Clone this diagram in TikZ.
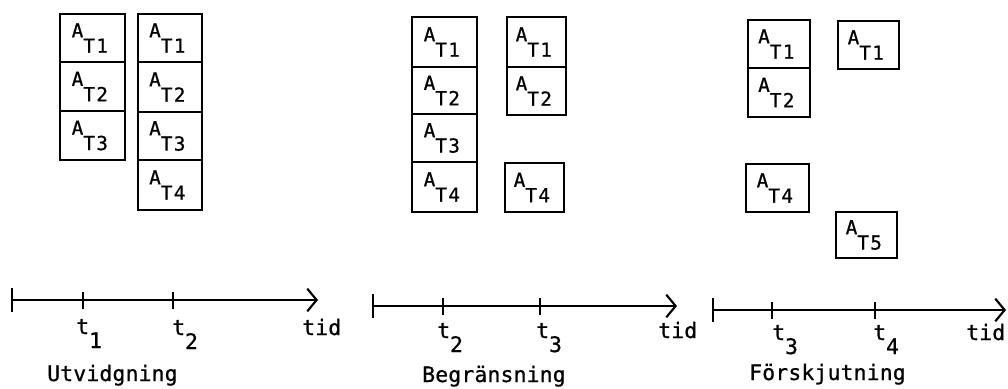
\documentclass[tikz,border=0pt]{standalone}
\usepackage{fontspec}
\newfontfamily\boxfont[LetterSpace=7,FakeBold=0.8]{DejaVu Sans Mono}
\newfontfamily\labfont[LetterSpace=1,FakeBold=0.8]{DejaVu Sans Mono}
\usetikzlibrary{arrows.meta}
\newcommand\lowsub[1]{\lower11.5pt\hbox{#1}}
\newcommand\tsub[1]{\lower10.5pt\hbox{#1}}
\newcommand\abox[6]{%
  \node[abx, minimum width={(#4-#2)*0.75pt}, minimum height={(#5-#3)*0.75pt}]
    (#1) at ({(#2+#4)/2},{(#3+#5)/2}) {A\lowsub{T#6}\kern4pt};}
\begin{document}
\begin{tikzpicture}[x=0.75pt,y=-0.75pt,
  abx/.style={draw, line width=1.9pt, inner sep=0pt, font=\fontsize{14.5}{16}\boxfont},
  lab/.style={anchor=base west, inner sep=0pt, font=\fontsize{16}{18}\labfont},
  axis/.style={line width=1.6pt},
  tk/.style={line width=1.6pt},
  tip/.style={-{Straight Barb[length=7pt,width=17pt,line width=1.6pt]}}]
\useasboundingbox (0,0) rectangle (1008,389);
% Panel 1: Utvidgning
\abox{p1a1}{60}{14}{125}{62}{1}
\abox{p1a2}{60}{62}{125}{111}{2}
\abox{p1a3}{60}{111}{125}{160}{3}
\abox{p1b1}{138}{14}{202}{62}{1}
\abox{p1b2}{138}{62}{202}{112}{2}
\abox{p1b3}{138}{112}{202}{160}{3}
\abox{p1b4}{138}{160}{202}{210}{4}
\coordinate (a1s) at (12,300);
\coordinate (a1t1) at (83,300);
\coordinate (a1t2) at (173,300);
\coordinate (a1e) at (318,300);
\draw[axis,tip] (a1s) -- (a1e);
\draw[tk] ([yshift=-9pt]a1s) -- ([yshift=9pt]a1s);
\draw[tk] ([yshift=-7pt]a1t1) -- ([yshift=6pt]a1t1);
\draw[tk] ([yshift=-7pt]a1t2) -- ([yshift=6pt]a1t2);
\node[lab] (l1t1) at (76,334) {t\tsub{1}};
\node[lab] (l1t2) at (172,335) {t\tsub{2}};
\node[lab] (l1tid) at (302,335) {tid};
\node[lab] (l1name) at (47,381) {Utvidgning};
% Panel 2: Begränsning
\abox{p2a1}{412}{17}{477}{67}{1}
\abox{p2a2}{412}{67}{477}{114}{2}
\abox{p2a3}{412}{114}{477}{162}{3}
\abox{p2a4}{412}{162}{477}{212}{4}
\abox{p2b1}{507}{17}{566}{67}{1}
\abox{p2b2}{507}{67}{566}{115}{2}
\abox{p2b4}{505}{163}{564}{212}{4}
\coordinate (a2s) at (373,306);
\coordinate (a2t1) at (443,306);
\coordinate (a2t2) at (540,306);
\coordinate (a2e) at (677,306);
\draw[axis,tip] (a2s) -- (a2e);
\draw[tk] ([yshift=-9pt]a2s) -- ([yshift=9pt]a2s);
\draw[tk] ([yshift=-7pt]a2t1) -- ([yshift=6pt]a2t1);
\draw[tk] ([yshift=-7pt]a2t2) -- ([yshift=6pt]a2t2);
\node[lab] (l2t1) at (437,338) {t\tsub{2}};
\node[lab] (l2t2) at (536,338) {t\tsub{3}};
\node[lab] (l2tid) at (658,338) {tid};
\node[lab] (l2name) at (422,382) {Begränsning};
% Panel 3: Förskjutning
\abox{p3a1}{748}{20}{810}{68}{1}
\abox{p3a2}{748}{68}{810}{117}{2}
\abox{p3a4}{746}{164}{809}{212}{4}
\abox{p3b1}{838}{21}{899}{69}{1}
\abox{p3b5}{836}{212}{897}{258}{5}
\coordinate (a3s) at (713,310);
\coordinate (a3t1) at (772,310);
\coordinate (a3t2) at (875,310);
\coordinate (a3e) at (1006,310);
\draw[axis,tip] (a3s) -- (a3e);
\draw[tk] ([yshift=-9pt]a3s) -- ([yshift=9pt]a3s);
\draw[tk] ([yshift=-7pt]a3t1) -- ([yshift=6pt]a3t1);
\draw[tk] ([yshift=-7pt]a3t2) -- ([yshift=6pt]a3t2);
\node[lab] (l3t1) at (772,340) {t\tsub{3}};
\node[lab] (l3t2) at (873,340) {t\tsub{4}};
\node[lab] (l3tid) at (966,340) {tid};
\node[lab] (l3name) at (749,380) {Förskjutning};
\end{tikzpicture}
\end{document}
